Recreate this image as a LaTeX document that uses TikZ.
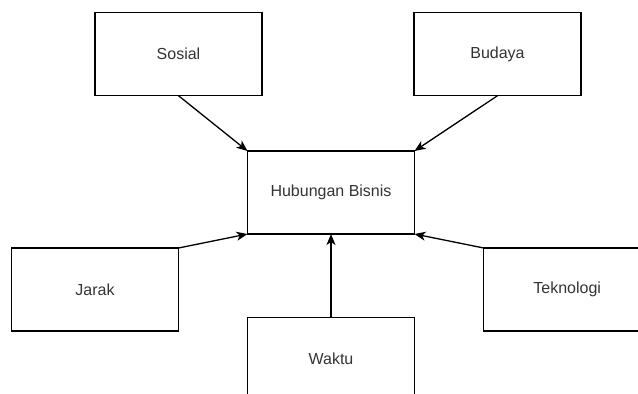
\documentclass[tikz,border=0pt]{standalone}
\usepackage{fontspec}
\setmainfont{Liberation Sans}
\usetikzlibrary{arrows.meta, positioning}
\definecolor{labelgray}{HTML}{333333}
\tikzstyle{block} = [rectangle, draw, line width = 1.3pt, minimum width = 167pt, minimum height = 83pt, inner sep = 0pt, outer sep = 0pt, text = labelgray, font = \fontsize{16}{19}\selectfont]
\tikzstyle{line2} = [draw, line width = 1.3pt, -{Stealth[length = 11pt, width = 9pt, inset = 3pt]}]

\begin{document}
\begin{tikzpicture}[x = 1pt, y = -1pt]
			\useasboundingbox (0, 0) rectangle (638, 394);
			% Place nodes
			\node [block] (sosial) at (178.5, 54.2) {Sosial};
			\node [block] (budaya) at (497.5, 54.2) {Budaya};
			\node [block] (bisnis) at (331, 192.5) {Hubungan Bisnis};
			\node [block] (jarak) at (95, 289.5) {Jarak};
			\node [block] (teknologi) at (567.2, 289.5) {Teknologi};
			\node [block] (waktu) at (331, 359.2) {Waktu};

			% Draw edges
			\path [line2] (sosial.south) -- (bisnis.north west);
			\path [line2] (budaya.south) -- (bisnis.north east);
			\path [line2] (jarak.north east) -- (bisnis.south west);
			\path [line2] (teknologi.north west) -- (bisnis.south east);
			\path [line2] (waktu.north) -- (bisnis.south);
		\end{tikzpicture}
\end{document}
